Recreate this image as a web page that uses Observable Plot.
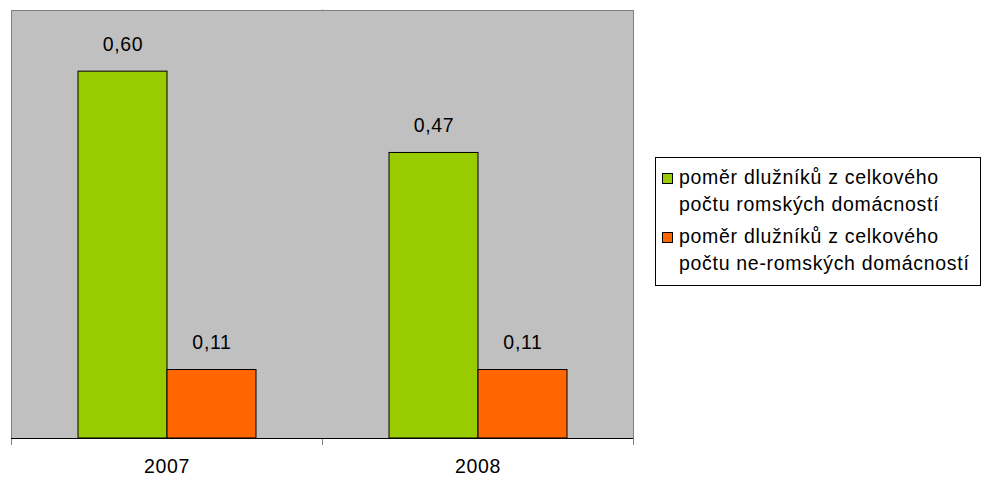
<!DOCTYPE html>
<html>
<head>
<meta charset="utf-8">
<script src="https://cdn.jsdelivr.net/npm/d3@7"></script>
<script src="https://cdn.jsdelivr.net/npm/@observablehq/plot@0.6"></script>
<style>
  html, body { margin: 0; padding: 0; background: #fff; }
  #wrap { position: relative; width: 983px; height: 477px; font-family: "Liberation Sans", Arial, sans-serif; }
  #wrap svg text { letter-spacing: 0.7px; }
  #legend { position: absolute; left: 655px; top: 157px; width: 326px; height: 129px; border: 1px solid #000; box-sizing: border-box; background: #fff; font-size: 19.5px; letter-spacing: 0.7px; color: #000; }
  .item { position: absolute; left: 23px; line-height: 27px; white-space: nowrap; }
  .sw { position: absolute; left: -17px; top: 9.5px; width: 9px; height: 9px; border: 1px solid #000; }
</style>
</head>
<body>
<div id="wrap"></div>
<script>
const years = ["2007", "2008"];
const seriesNames = [
  "poměr dlužníků z celkového počtu romských domácností",
  "poměr dlužníků z celkového počtu ne-romských domácností"
];
const seriesLines = [
  ["poměr dlužníků z celkového", "počtu romských domácností"],
  ["poměr dlužníků z celkového", "počtu ne-romských domácností"]
];
const romaValues = [0.600, 0.467];
const nonRomaValues = [0.112, 0.112];
const colors = ["#99CC00", "#FF6600"];

const data = [];
years.forEach((yr, i) => {
  data.push({year: yr, series: seriesNames[0], value: romaValues[i]});
  data.push({year: yr, series: seriesNames[1], value: nonRomaValues[i]});
});
const fmt = v => v.toFixed(2).replace(".", ",");

const chart = Plot.plot({
  width: 983,
  height: 477,
  marginLeft: 11,
  marginRight: 350,
  marginTop: 10,
  marginBottom: 39,
  style: {fontFamily: "'Liberation Sans', Arial, sans-serif", fontSize: "19.5px", background: "transparent", overflow: "visible"},
  fx: {domain: years, padding: 0, label: null},
  x: {domain: seriesNames, paddingInner: 0, paddingOuter: 0.728, axis: null},
  y: {domain: [0, 0.7], axis: null},
  color: {domain: seriesNames, range: colors},
  marks: [
    Plot.frame({fill: "#C0C0C0"}),
    // boundary tick between categories; its upper part is painted over with the background colour
    Plot.frame({anchor: "left", stroke: "#808080", facetAnchor: "right", insetBottom: -6}),
    Plot.frame({anchor: "left", stroke: "#C0C0C0", strokeWidth: 2, facetAnchor: "right"}),
    Plot.frame({anchor: "top", stroke: "#808080"}),
    Plot.frame({anchor: "left", stroke: "#808080", facetAnchor: "left", insetBottom: -6}),
    Plot.frame({anchor: "right", stroke: "#808080", facetAnchor: "right", insetBottom: -6}),
    Plot.barY(data, {fx: "year", x: "series", y: "value", fill: "series", stroke: "#000", strokeWidth: 1}),
    Plot.ruleY([0], {stroke: "#000"}),
    Plot.text(data, {fx: "year", x: "series", y: "value", text: d => fmt(d.value), lineAnchor: "bottom", dy: -21, fontSize: 19.5, fill: "#000"}),
    Plot.axisFx({anchor: "bottom", tickSize: 0, tickPadding: 21, fontSize: 19.5, label: null})
  ]
});
document.getElementById("wrap").appendChild(chart);

const legend = document.createElement("div");
legend.id = "legend";
seriesLines.forEach((lines, i) => {
  const item = document.createElement("div");
  item.className = "item";
  item.style.top = (5.75 + i * 59) + "px";
  const sw = document.createElement("span");
  sw.className = "sw";
  sw.style.background = colors[i];
  item.appendChild(sw);
  lines.forEach(t => {
    const l = document.createElement("div");
    l.textContent = t;
    item.appendChild(l);
  });
  legend.appendChild(item);
});
document.getElementById("wrap").appendChild(legend);
</script>
</body>
</html>
